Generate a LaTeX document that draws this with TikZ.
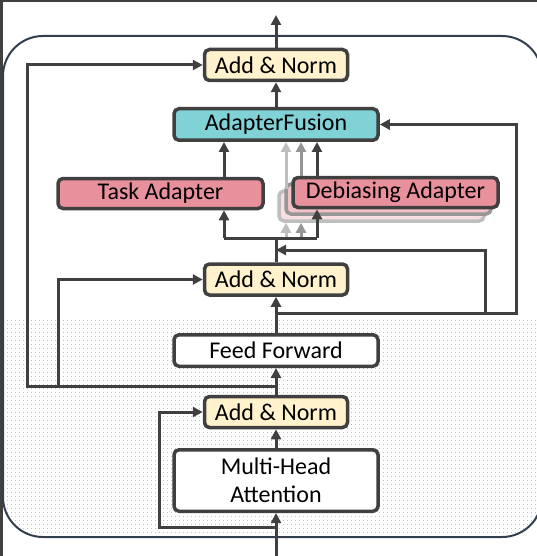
\documentclass[tikz,border=0pt]{standalone}
\usepackage{fontspec}
\setmainfont{Carlito}
\usetikzlibrary{arrows.meta,patterns.meta}

\definecolor{linec}{RGB}{64,64,64}
\definecolor{framec}{RGB}{50,62,79}
\definecolor{normc}{RGB}{255,242,204}
\definecolor{fusionc}{RGB}{128,210,214}
\definecolor{adapterc}{RGB}{232,144,156}
\definecolor{dotc}{RGB}{150,170,205}
\definecolor{ghostc}{RGB}{150,150,150}
\definecolor{ghostlc}{RGB}{190,190,190}

\tikzset{
  block/.style={draw=linec, line width=3.5pt, rounded corners=5pt, fill=white, inner sep=0pt, font=\fontsize{24}{28}\selectfont},
  addnorm/.style={block, fill=normc, minimum width=143pt, minimum height=31pt},
  sublayer/.style={block, minimum width=204pt, minimum height=31.5pt},
  adapter/.style={block, fill=adapterc, minimum width=205pt, minimum height=30pt},
  link/.style={linec, line width=3pt},
  arr/.style={link, -{Triangle[length=10pt,width=10pt]}},
}

\begin{document}
\begin{tikzpicture}[x=1pt, y=-1pt]
    \useasboundingbox (0,0) rectangle (537,556);
    % lines at the edge of the image
    \draw[linec, line width=2.5pt] (0,1.25) -- (537,1.25);
    \draw[linec, line width=2.5pt] (1.25,0) -- (1.25,556);

    % dotted lower half of the layer
    \begin{scope}
        \clip[rounded corners=40pt] (3,36) rectangle (542,537);
        \fill[pattern={Dots[distance=4pt,radius=0.6pt]}, pattern color=dotc] (0,320) rectangle (545,540);
    \end{scope}
    \draw[framec, line width=2pt, rounded corners=40pt] (3,36) rectangle (542,537);

    \node[addnorm] (normtop) at (276,65) {Add \& Norm};
    \node[sublayer, fill=fusionc] (fusion) at (276,124.5) {AdapterFusion};
    \node[adapter] (task) at (160.5,193.5) {Task Adapter};

    % stacked debiasing adapters
    \node[adapter, draw=ghostlc, fill=adapterc!30] (ghostb) at (381.5,206) {};
    \node[adapter, draw=ghostc, fill=adapterc!55] (ghosta) at (388.5,199) {};

    \node[addnorm] (normmid) at (276,279.5) {Add \& Norm};
    \node[sublayer] (ffwd) at (276,350.5) {Feed Forward};
    \node[addnorm] (normlow) at (276,412) {Add \& Norm};
    \node[sublayer, minimum height=61.5pt, align=center] (mha) at (276,480.5) {Multi-Head\\Attention};

    \coordinate (in) at (276,556);
    \coordinate (out) at (276,15);
    \coordinate (j1) at (276,527);
    \coordinate (s1) at (159,527);
    \coordinate (j2) at (276,386);
    \coordinate (s2) at (27,386);
    \coordinate (s3) at (58,386);
    \coordinate (j3) at (276,313);
    \coordinate (s4) at (516,313);
    \coordinate (s5) at (485,313);
    \coordinate (j4) at (276,250);
    \coordinate (j5) at (276,238);
    \coordinate (ta) at (224,238);
    \coordinate (gb) at (286,238);
    \coordinate (ga) at (301,238);
    \coordinate (db) at (317,238);

    % gray arrows of the stacked adapters
    \draw[arr, ghostlc] (gb) -- (gb |- ghostb.south);
    \draw[arr, ghostc] (ga) -- (ga |- ghostb.south);
    \draw[arr, ghostlc] (gb |- ghostb.north) -- (gb |- fusion.south);
    \draw[arr, ghostc] (ga |- ghosta.north) -- (ga |- fusion.south);

    \node[adapter] (debias) at (395.5,192.5) {Debiasing Adapter};

    % main path
    \draw[arr] (in) -- (mha.south);
    \draw[arr] (mha.north) -- (normlow.south);
    \draw[arr] (normlow.north) -- (ffwd.south);
    \draw[arr] (ffwd.north) -- (normmid.south);
    \draw[link] (normmid.north) -- (j5);
    \draw[arr] (fusion.north) -- (normtop.south);
    \draw[arr] (normtop.north) -- (out);

    % residual lines
    \draw[arr] (j1) -- (s1) |- (normlow.west);
    \draw[arr] (j2) -- (s2) |- (normtop.west);
    \draw[arr] (s3) |- (normmid.west);
    \draw[arr] (j3) -- (s4) |- (fusion.east);
    \draw[arr] (s5) |- (j4);

    % adapters
    \draw[link] (ta) -- (db);
    \draw[arr] (ta) -- (ta |- task.south);
    \draw[arr] (db) -- (db |- debias.south);
    \draw[arr] (ta |- task.north) -- (ta |- fusion.south);
    \draw[arr] (db |- debias.north) -- (db |- fusion.south);
\end{tikzpicture}
\end{document}
